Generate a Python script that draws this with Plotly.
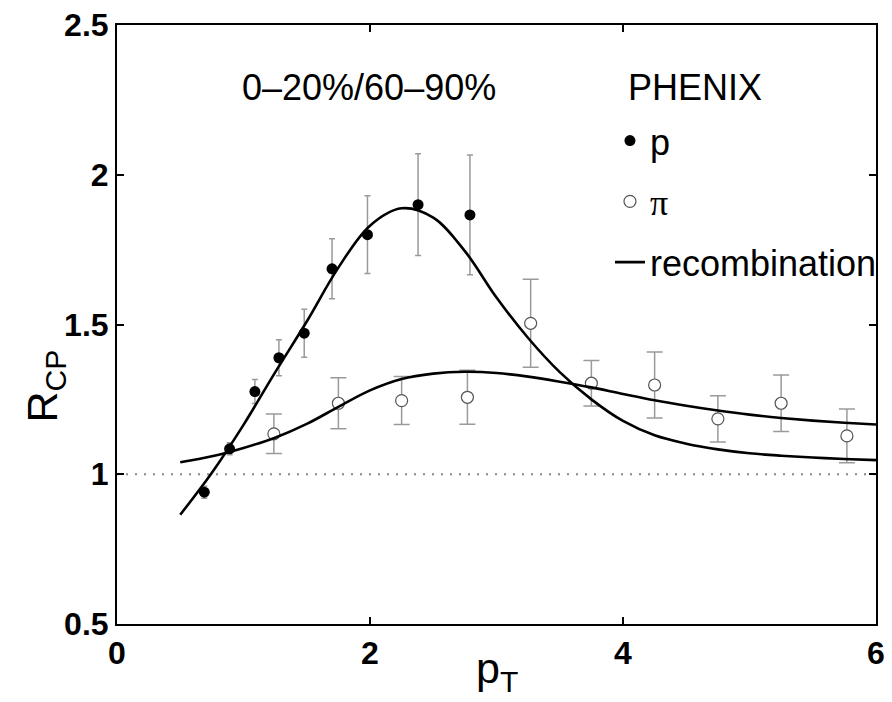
import plotly.graph_objects as go

# ---- data ----
pt_p = [0.69, 0.89, 1.09, 1.28, 1.48, 1.70, 1.98, 2.38, 2.79]
rcp_p = [0.94, 1.085, 1.276, 1.389, 1.471, 1.686, 1.80, 1.90, 1.866]
err_p = [0.02, 0.02, 0.04, 0.06, 0.08, 0.10, 0.13, 0.17, 0.20]

pt_pi = [1.24, 1.75, 2.25, 2.77, 3.27, 3.75, 4.25, 4.75, 5.25, 5.77]
rcp_pi = [1.135, 1.237, 1.246, 1.257, 1.504, 1.304, 1.298, 1.185, 1.237, 1.128]
err_pi = [0.066, 0.085, 0.08, 0.09, 0.147, 0.076, 0.11, 0.077, 0.094, 0.09]

# recombination model curves
curve_p_x = [0.5, 0.75, 1.0, 1.25, 1.5, 1.75, 2.0, 2.25, 2.5, 2.75, 3.0, 3.25,
             3.5, 3.75, 4.0, 4.25, 4.5, 4.75, 5.0, 5.25, 5.5, 5.75, 6.0]
curve_p_y = [0.865, 1.005, 1.165, 1.34, 1.51, 1.69, 1.83, 1.888, 1.857, 1.745, 1.59,
             1.455, 1.341, 1.25, 1.178, 1.13, 1.102, 1.083, 1.07, 1.062, 1.056, 1.051,
             1.047]

curve_pi_x = [0.5, 0.75, 1.0, 1.25, 1.5, 1.75, 2.0, 2.25, 2.5, 2.75, 3.0, 3.25,
              3.5, 3.75, 4.0, 4.25, 4.5, 4.75, 5.0, 5.25, 5.5, 5.75, 6.0]
curve_pi_y = [1.040, 1.060, 1.088, 1.122, 1.168, 1.225, 1.280, 1.318, 1.336, 1.342,
              1.338, 1.326, 1.309, 1.290, 1.268, 1.247, 1.229, 1.213, 1.199, 1.188,
              1.179, 1.172, 1.166]

x_ticks = [0, 2, 4, 6]
y_ticks = [0.5, 1, 1.5, 2, 2.5]

FONT = "Liberation Sans, Arial, Helvetica, sans-serif"
ERR_COLOR = "#9a9a9a"

fig = go.Figure()

fig.add_trace(go.Scatter(
    x=pt_p, y=rcp_p, mode="markers", name="p", legendgroup="a",
    marker=dict(symbol="circle", size=11, color="black"),
    error_y=dict(type="data", array=err_p, color=ERR_COLOR, thickness=1.5, width=3),
))
fig.add_trace(go.Scatter(
    x=pt_pi, y=rcp_pi, mode="markers",
    name="<span style='font-family:Liberation Serif, Times New Roman, serif'>π</span>",
    legendgroup="b",
    marker=dict(symbol="circle", size=12, color="white",
                line=dict(color="#555555", width=1.2)),
    error_y=dict(type="data", array=err_pi, color=ERR_COLOR, thickness=1.5, width=8),
))
fig.add_trace(go.Scatter(
    x=curve_p_x, y=curve_p_y, mode="lines", name="recombination", legendgroup="c",
    line=dict(color="black", width=2.6, shape="spline", smoothing=1.0),
))
fig.add_trace(go.Scatter(
    x=curve_pi_x, y=curve_pi_y, mode="lines", name="recombination", legendgroup="c",
    showlegend=False,
    line=dict(color="black", width=2.6, shape="spline", smoothing=1.0),
))

fig.add_hline(y=1, line=dict(color="#888888", width=1.8, dash="2px,7px"), layer="below")

axis_common = dict(
    showline=True, linecolor="black", linewidth=2, mirror="ticks",
    ticks="inside", ticklen=7, tickwidth=1.5, tickcolor="black",
    showgrid=False, zeroline=False,
    tickfont=dict(family=FONT, size=32, color="black", weight="bold"),
)

fig.update_xaxes(range=[0, 6], tickvals=x_ticks, ticktext=[str(v) for v in x_ticks],
                 **axis_common)
fig.update_yaxes(range=[0.5, 2.5], tickvals=y_ticks,
                 ticktext=["0.5", "1", "1.5", "2", "2.5"], **axis_common)

fig.add_annotation(x=1.99, y=2.29, xref="x", yref="y", text="0–20%/60–90%",
                   showarrow=False, font=dict(family=FONT, size=36, color="black"),
                   xanchor="center", yanchor="middle")
fig.add_annotation(x=4.02, y=2.29, xref="x", yref="y", text="PHENIX",
                   showarrow=False, font=dict(family=FONT, size=36, color="black"),
                   xanchor="left", yanchor="middle")
fig.add_annotation(x=-0.095, y=0.398, xref="paper", yref="paper",
                   text="R<sub>CP</sub>", textangle=-90, showarrow=False,
                   font=dict(family=FONT, size=43, color="black"),
                   xanchor="center", yanchor="middle")
fig.add_annotation(x=0.5, y=-0.079, xref="paper", yref="paper",
                   text="p<sub>T</sub>", showarrow=False,
                   font=dict(family=FONT, size=43, color="black"),
                   xanchor="center", yanchor="middle")

fig.update_layout(
    width=892, height=702,
    margin=dict(l=117, r=7, t=18, b=78),
    paper_bgcolor="white", plot_bgcolor="white",
    showlegend=True,
    legend=dict(x=0.6495, y=0.857, xanchor="left", yanchor="top",
                bgcolor="rgba(0,0,0,0)", borderwidth=0,
                font=dict(family=FONT, size=36, color="black"),
                tracegroupgap=11, traceorder="grouped", itemwidth=30),
)

fig.write_html("out.html")
